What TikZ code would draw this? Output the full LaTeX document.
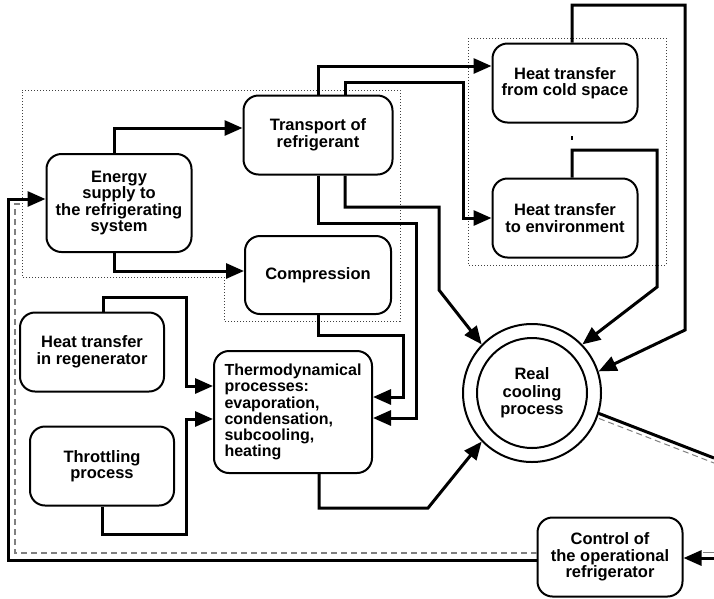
\documentclass[tikz,border=0pt]{standalone}
\usepackage{fontspec}
\setmainfont{Liberation Sans}
\usetikzlibrary{arrows.meta}

\begin{document}
\begin{tikzpicture}[x=1pt, y=-1pt,
    box/.style={draw, line width=2pt, rounded corners=15pt, align=center,
      minimum width=145pt, minimum height=79pt, inner sep=2pt,
      font=\bfseries\fontsize{16.5}{16.5}\selectfont},
    flow/.style={line width=3pt, -{Triangle[length=18pt,width=15pt]}},
    wire/.style={line width=3pt},
    loopline/.style={line width=1.3pt, gray, dash pattern=on 6pt off 4pt},
    group/.style={line width=0.9pt, black!75, dash pattern=on 1pt off 2pt}]
  \useasboundingbox (0,0) rectangle (714,598);

  \draw[group] (22,90) -- (400,90) -- (400,321) -- (224,321) -- (224,277) -- (22,277) -- cycle;
  \draw[group] (468,38) rectangle (666,265);

  \node[box, minimum height=98pt] (energy) at (119,203) {Energy\\supply to\\the refrigerating\\system};
  \node[box, minimum width=149pt] (transport) at (318,135) {Transport of\\refrigerant};
  \node[box, minimum width=146pt, minimum height=78pt] (compr) at (318,275) {Compression};
  \node[box] (cold) at (565,83) {Heat transfer\\from cold space};
  \node[box] (env) at (565,218) {Heat transfer\\to environment};
  \node[box, minimum width=144pt] (regen) at (92,352) {Heat transfer\\in regenerator};
  \node[box, minimum width=144pt] (throttle) at (102,466) {Throttling\\process};
  \node[box, align=left, minimum width=158pt, minimum height=122pt,
    font=\bfseries\fontsize{16}{16.2}\selectfont] (thermo) at (293,412)
    {Thermodynamical\\processes:\\evaporation,\\condensation,\\subcooling,\\heating};
  \node[box] (control) at (610,557) {Control of\\the operational\\refrigerator};

  \node[draw, circle, line width=2pt, minimum size=138pt, inner sep=0pt] (real) at (532,393) {};
  \node[draw, circle, line width=2pt, minimum size=110pt, inner sep=0pt, align=center,
    font=\bfseries\fontsize{16.5}{17.5}\selectfont] (realin) at (532,393) {Real\\cooling\\process};

  \draw[flow] ([xshift=-5pt]energy.north) |- ([yshift=7pt]transport.west);
  \draw[flow] ([xshift=-5pt]energy.south) |- ([yshift=4pt]compr.west);
  \draw[flow] (transport.north) |- ([yshift=17pt]cold.west);
  \draw[flow] ([xshift=27pt]transport.north) |- (463,82) |- (env.west);
  \draw[flow] (transport.south) |- (416,223) |- ([yshift=-6pt]thermo.east);
  \draw[flow] (compr.south) |- (403,335) |- ([yshift=15pt]thermo.east);
  \draw[flow] ([xshift=27pt]transport.south) |- (439,207) -- (439,290) -- (real.136);
  \draw[flow] ([xshift=7pt]cold.north) |- (685,5) -- (685,330) -- (real.18);
  \draw[flow] ([xshift=7pt]env.north) |- (657,150) -- (657,287) -- (real.44);
  \draw[flow] ([xshift=26pt]thermo.south) |- (428,508) -- (real.224);
  \draw[flow] ([xshift=11pt]regen.north) |- (186,297) |- ([yshift=26pt]thermo.west);
  \draw[flow] (throttle.south) |- (186,534) |- ([yshift=-7pt]thermo.west);

  \draw[line width=1.5pt] (572,136) -- (572,140);

  \coordinate (exit) at (714,458);
  \coordinate (entry) at (714,558);
  \draw[wire] (real.-17) -- (exit);
  \draw[loopline, line width=1pt] ([yshift=-5pt]real.-17) -- ([yshift=-5pt]exit);
  \draw[flow] (entry) -- ([yshift=-1pt]control.east);
  \draw[gray, line width=1pt] (703,552) -- (714,552);
  \draw[flow] ([yshift=-3pt]control.west) -| (8,199) -- ([yshift=4pt]energy.west);
  \draw[loopline] ([yshift=4pt]control.west) -| (15,204) -- (24,204);
\end{tikzpicture}
\end{document}
